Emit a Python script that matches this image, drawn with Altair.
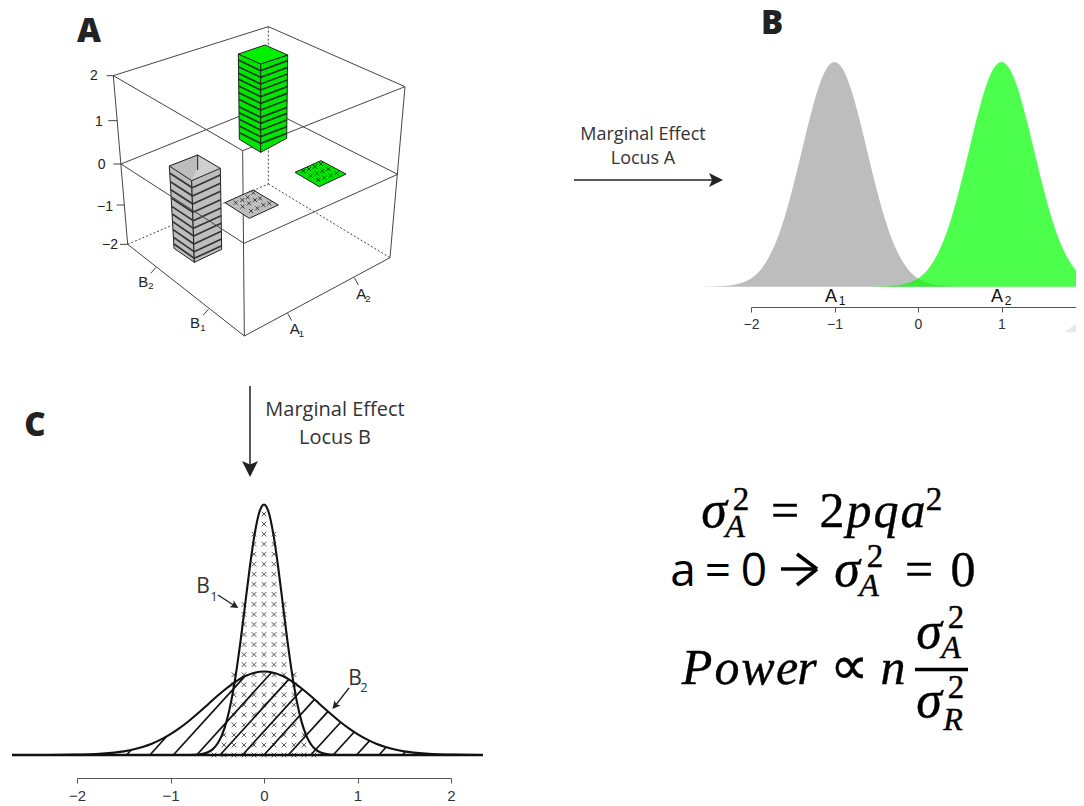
import altair as alt
import pandas as pd

# ---------- panel B: marginal densities of locus A (relative height)
b_x1 = [-2.8,-2.6,-2.4,-2.3,-2.2,-2.1,-2.0,-1.9,-1.8,-1.7,-1.6,-1.5,-1.4,-1.3,-1.2,-1.1,-1.0,-0.9,-0.8,-0.7,-0.6,-0.5,-0.4,-0.3,-0.2,-0.1,0.0,0.1,0.2,0.3,0.4,0.6,0.8]
b_y1 = [0.0,0.0002,0.0016,0.0038,0.0088,0.019,0.037,0.069,0.122,0.2,0.306,0.44,0.591,0.744,0.877,0.968,1.0,0.968,0.877,0.744,0.591,0.44,0.306,0.2,0.122,0.069,0.037,0.019,0.0088,0.0038,0.0016,0.0002,0.0]
b_x2 = [-0.8,-0.6,-0.4,-0.3,-0.2,-0.1,0.0,0.1,0.2,0.3,0.4,0.5,0.6,0.7,0.8,0.9,1.0,1.1,1.2,1.3,1.4,1.5,1.6,1.7,1.8,1.9,2.0,2.1,2.2,2.4]
b_y2 = [0.0,0.0002,0.0016,0.0038,0.0088,0.019,0.037,0.069,0.122,0.2,0.306,0.44,0.591,0.744,0.877,0.968,1.0,0.968,0.877,0.744,0.591,0.44,0.306,0.2,0.122,0.069,0.037,0.019,0.0088,0.0016]

# ---------- panel C: marginal densities of locus B
c_x1 = [-0.8,-0.7,-0.6,-0.55,-0.5,-0.45,-0.4,-0.35,-0.3,-0.25,-0.2,-0.15,-0.1,-0.05,0.0,0.05,0.1,0.15,0.2,0.25,0.3,0.35,0.4,0.45,0.5,0.55,0.6,0.7,0.8]
c_y1 = [0.0,0.004,0.022,0.045,0.088,0.159,0.27,0.431,0.648,0.913,1.21,1.506,1.76,1.934,1.995,1.934,1.76,1.506,1.21,0.913,0.648,0.431,0.27,0.159,0.088,0.045,0.022,0.004,0.0]
c_x2 = [-2.3,-2.0,-1.8,-1.6,-1.5,-1.4,-1.3,-1.2,-1.1,-1.0,-0.9,-0.8,-0.7,-0.6,-0.5,-0.4,-0.3,-0.2,-0.1,0.0,0.1,0.2,0.3,0.4,0.5,0.6,0.7,0.8,0.9,1.0,1.1,1.2,1.3,1.4,1.5,1.6,1.8,2.0,2.3]
c_y2 = [0.0,0.003,0.007,0.019,0.029,0.044,0.064,0.09,0.124,0.166,0.216,0.273,0.336,0.403,0.47,0.532,0.587,0.629,0.656,0.665,0.656,0.629,0.587,0.532,0.47,0.403,0.336,0.273,0.216,0.166,0.124,0.09,0.064,0.044,0.029,0.019,0.007,0.003,0.0]
hatch_x0 = [-1.47,-1.22,-0.97,-0.72,-0.47,-0.23,0.0,0.26,0.5,0.74,0.99,1.23,1.48]
hatch_x1 = [-1.42,-1.04,-0.21,0.08,0.265,0.41,0.54,0.685,0.82,0.965,1.13,1.305,1.515]
hatch_y1 = [0.041,0.149,0.623,0.657,0.603,0.525,0.443,0.348,0.261,0.183,0.114,0.062,0.028]
row_density = [1.92,1.84,1.76,1.68,1.60,1.52,1.44,1.36,1.28,1.20,1.12,1.04,0.96,0.88,0.80,0.72,0.64,0.56,0.48,0.40,0.32,0.24,0.16,0.08,0.0]
row_half = [0,0,1,1,1,1,1,1,1,2,2,2,2,2,2,2,3,3,3,3,3,3,4,4,5]
COL_STEP = 0.107

# ---------- panel A: the 3-D box, in picture units of the panel
box_solid = [
    ((160,197),(625,50)),((625,50),(1035,230)),((1035,230),(548,422)),((548,422),(160,197)),
    ((183,462),(610,290)),((610,290),(1013,493)),((1013,493),(552,700)),((552,700),(183,462)),
    ((203,703),(553,978)),((553,978),(990,743)),
    ((160,197),(203,703)),((548,422),(553,978)),((1035,230),(990,743)),
    ((160,197),(140,197)),((172,332),(145,332)),((183,462),(160,462)),((192,585),(170,585)),((203,703),(180,703)),
    ((288,772),(272,790)),((445,898),(430,915)),((683,910),(695,932)),((883,803),(895,825)),
]
box_dashed = [((625,50),(625,522)),((203,703),(625,522)),((625,522),(990,743))]

green_top = [(535,132),(615,105),(683,135),(602,162),(535,132)]
green_left = [(535,132),(602,162),(602,427),(538,388),(535,132)]
green_right = [(602,162),(683,135),(680,385),(602,427),(602,162)]
green_rows = [182,202,222,240,260,280,300,322,340,360,380,400]
grey_in_l = [(328,468),(413,435),(413,478),(395,512),(328,468)]
grey_in_r = [(413,435),(481,475),(395,512),(413,478),(413,435)]
grey_rim = [((328,468),(413,435)),((413,435),(481,475)),((413,435),(413,480))]
grey_left = [(328,468),(395,512),(403,757),(342,715),(328,468)]
grey_right = [(395,512),(481,475),(485,718),(403,757),(395,512)]
grey_rows = [533,558,582,607,632,655,678,702,725,745]
grey_tile = [(495,578),(580,540),(655,585),(568,625),(495,578)]
green_tile = [(705,487),(783,452),(858,492),(778,530),(705,487)]
grey_x = [(527,578),(547,570),(563,562),(580,548),(548,590),(567,580),(585,570),(600,565),(573,603),(592,595),(610,585),(628,580)]
green_x = [(730,483),(747,477),(765,470),(783,462),(752,497),(770,490),(787,483),(805,477),(775,510),(793,503),(812,497),(830,490)]
corner_wedge = [(1065,332),(1076,324),(1076,332),(1065,332)]

W, H = 1068, 798
page_x = alt.Scale(domain=[8, 1076], range=[0, W])
page_y = alt.Scale(domain=[8, 806], range=[0, H])
a_x = alt.Scale(domain=[0, 1110], range=[52, 422])
a_y = alt.Scale(domain=[0, 1020], range=[2, 342])
b_xs = alt.Scale(domain=[-2, 2], range=[743, 1077])
b_ys = alt.Scale(domain=[0, 1], range=[278.7, 54])
c_xs = alt.Scale(domain=[-2, 2], range=[69, 443])
c_ys = alt.Scale(domain=[0, 2], range=[747, 496])


def X(f, s): return alt.X(f, type="quantitative", scale=s, axis=None)
def Y(f, s): return alt.Y(f, type="quantitative", scale=s, axis=None)


def segs(pairs, sx, sy, **kw):
    df = pd.DataFrame([dict(x=a[0], y=a[1], x2=b[0], y2=b[1]) for a, b in pairs])
    return alt.Chart(df).mark_rule(**kw).encode(x=X("x", sx), y=Y("y", sy), x2="x2:Q", y2="y2:Q")


def poly(pts, fill, stroke="#222222", sw=1.0, sx=a_x, sy=a_y):
    df = pd.DataFrame([dict(x=p[0], y=p[1], i=i) for i, p in enumerate(pts)])
    return alt.Chart(df).mark_line(fill=fill, stroke=stroke, strokeWidth=sw, strokeJoin="round").encode(
        x=alt.X("x:Q", scale=sx, axis=None, sort=None), y=Y("y", sy), order="i:Q")


def texts(rows, font, weight="normal", style="normal", sx=page_x, sy=page_y, baseline="alphabetic", **kw):
    df = pd.DataFrame(rows, columns=["t", "x", "y", "s", "c"])
    return alt.Chart(df).mark_text(font=font, fontWeight=weight, fontStyle=style, baseline=baseline, align="center", **kw).encode(
        x=X("x", sx), y=Y("y", sy), text="t:N",
        size=alt.Size("s:Q", scale=None, legend=None), color=alt.Color("c:N", scale=None, legend=None))


def heads(pts, size, angle, color="#222222"):
    df = pd.DataFrame(pts, columns=["x", "y"])
    return alt.Chart(df).mark_point(shape="M-1,-1L1,0L-1,1L-0.55,0Z", filled=True, color=color, opacity=1,
                                    size=size, angle=angle).encode(x=X("x", page_x), y=Y("y", page_y))


def crosses(pts, sx, sy, size, color, sw):
    df = pd.DataFrame(pts, columns=["x", "y"])
    return alt.Chart(df).mark_point(shape="M-1,-1L1,1M-1,1L1,-1", filled=False, color=color, opacity=1,
                                    size=size, strokeWidth=sw).encode(x=X("x", sx), y=Y("y", sy))


def stripes(rows, xl0, xl1, xf0, xf1, xr0, xr1, dl, dr, color):
    out = []
    n = len(rows) - 1
    for i, yy in enumerate(rows):
        t = i / n
        fx = xf0 + (xf1 - xf0) * t
        out.append(((xl0 + (xl1 - xl0) * t, yy - dl), (fx, yy)))
        out.append(((fx, yy), (xr0 + (xr1 - xr0) * t, yy - dr)))
    return segs(out, a_x, a_y, color=color, strokeWidth=1.7)


layers = []

# panel B
dfb1 = pd.DataFrame({"x": b_x1, "y": b_y1})
dfb2 = pd.DataFrame({"x": b_x2, "y": b_y2})
layers.append(alt.Chart(dfb1).mark_area(color="#bdbdbd", interpolate="monotone").encode(
    x=alt.X("x:Q", scale=b_xs, axis=alt.Axis(orient="bottom", values=[-2, -1, 0, 1, 2], title=None, grid=False, format="d", offset=-499,
                                             tickSize=5, tickColor="#555555", domainColor="#555555", labelColor="#333333",
                                             labelFont="Liberation Sans", labelFontSize=14, labelPadding=5,
                                             labelFlush=False, labelOverlap=False, labelBound=False)),
    y=Y("y", b_ys)))
layers.append(alt.Chart(dfb2).mark_area(color="#00ff00", opacity=0.7, interpolate="monotone").encode(
    x=X("x", b_xs), y=Y("y", b_ys)))
layers.append(poly(corner_wedge, "#e8e8e8", stroke="#e8e8e8", sw=0.5, sx=page_x, sy=page_y))
layers.append(texts([("A", 831, 302, 18, "#111111"), ("1", 842, 305, 12, "#111111"),
                     ("A", 997, 302, 18, "#111111"), ("2", 1008, 305, 12, "#111111")], "Liberation Sans"))
layers.append(texts([("Marginal Effect", 643, 140, 18, "#333333"), ("Locus A", 643, 164, 18, "#333333"),
                     ("Marginal Effect", 335, 416, 20, "#333333"), ("Locus B", 335, 444, 20, "#333333")], "Open Sans"))
layers.append(segs([((574, 180), (715, 180))], page_x, page_y, color="#222222", strokeWidth=1.3))
layers.append(heads([(716, 180)], 196, 0))
layers.append(segs([((250, 386), (250, 468))], page_x, page_y, color="#222222", strokeWidth=1.5))
layers.append(heads([(250, 469)], 256, 90))

# panel C
cross_pts = [(k * COL_STEP, d) for d, h in zip(row_density, row_half) for k in range(-h, h + 1)]
layers.append(crosses(cross_pts, c_xs, c_ys, 22, "#555555", 1.0))
layers.append(segs(list(zip(zip(hatch_x0, [0] * len(hatch_x0)), zip(hatch_x1, hatch_y1))), c_xs, c_ys,
                   color="#111111", strokeWidth=1.7))
dfc1 = pd.DataFrame({"x": c_x1, "y": c_y1})
dfc2 = pd.DataFrame({"x": c_x2, "y": c_y2})
layers.append(alt.Chart(dfc1).mark_line(color="#111111", strokeWidth=2.1, interpolate="monotone").encode(
    x=alt.X("x:Q", scale=c_xs, axis=alt.Axis(orient="bottom", values=[-2, -1, 0, 1, 2], title=None, grid=False, format="d", offset=-28,
                                             tickSize=5, tickColor="#555555", domainColor="#555555", labelColor="#333333",
                                             labelFont="Liberation Sans", labelFontSize=15, labelPadding=5,
                                             labelFlush=False, labelOverlap=False)),
    y=Y("y", c_ys)))
layers.append(alt.Chart(dfc2).mark_line(color="#111111", strokeWidth=2.1, interpolate="monotone").encode(
    x=X("x", c_xs), y=Y("y", c_ys)))
layers.append(segs([((12, 755), (483, 755))], page_x, page_y, color="#111111", strokeWidth=2.6))
layers.append(texts([("B", 203, 593, 21, "#333333"), ("1", 214, 601, 13, "#333333"),
                     ("B", 355, 685, 21, "#333333"), ("2", 364, 692, 13, "#333333")], "Open Sans"))
layers.append(segs([((218, 595), (235, 606)), ((349, 688), (335, 706))], page_x, page_y, color="#222222", strokeWidth=1.3))
layers.append(heads([(235, 606)], 64, 32))
layers.append(heads([(335, 706)], 64, 129))

# panel A: back lines, grey tower, planes, tiles, green tower
layers.append(segs(box_dashed, a_x, a_y, color="#444444", strokeWidth=1, strokeDash=[2, 2]))
layers.append(poly(grey_in_l, "#bdbdbd", stroke="#bdbdbd"))
layers.append(poly(grey_in_r, "#cfcfcf", stroke="#cfcfcf"))
layers.append(segs(grey_rim, a_x, a_y, color="#222222", strokeWidth=1))
layers.append(poly(grey_left, "#bdbdbd"))
layers.append(poly(grey_right, "#bdbdbd"))
layers.append(stripes(grey_rows, 330, 342, 397, 403, 481, 485, 43, 38, "#333333"))
layers.append(segs(box_solid, a_x, a_y, color="#444444", strokeWidth=1))
layers.append(poly(grey_tile, "#bdbdbd"))
layers.append(crosses(grey_x, a_x, a_y, 16, "#222222", 0.8))
layers.append(poly(green_tile, "#00e600"))
layers.append(crosses(green_x, a_x, a_y, 16, "#111111", 0.8))
layers.append(poly(green_left, "#00e600"))
layers.append(poly(green_right, "#00e600"))
layers.append(stripes(green_rows, 535, 538, 602, 602, 683, 680, 32, 30, "#1a3a1a"))
layers.append(poly(green_top, "#00f000"))

a_labels = [("2", 102, 210, 14, "#222222"), ("1", 117, 347, 14, "#222222"), ("0", 125, 477, 14, "#222222"),
            ("−1", 135, 602, 14, "#222222"), ("−2", 150, 718, 14, "#222222"),
            ("B", 250, 830, 15, "#222222"), ("2", 273, 838, 9.5, "#222222"),
            ("B", 405, 955, 15, "#222222"), ("1", 429, 963, 9.5, "#222222"),
            ("A", 704, 973, 15, "#222222"), ("1", 724, 981, 9.5, "#222222"),
            ("A", 904, 867, 15, "#222222"), ("2", 924, 875, 9.5, "#222222")]
layers.append(texts(a_labels, "Liberation Sans", sx=a_x, sy=a_y))

# panel letters
layers.append(texts([("A", 89, 42, 33, "#222222"), ("B", 772, 34, 33, "#222222"), ("C", 35, 436, 33, "#222222")],
                    "Open Sans", weight=800))

# formulae
serif_i = [("σ", 714, 527, 52, "#000000"), ("A", 735, 537, 32, "#000000"),
           ("p", 859, 527, 50, "#000000"), ("q", 886, 527, 50, "#000000"), ("a", 913, 527, 50, "#000000"),
           ("σ", 847, 586, 52, "#000000"), ("A", 869, 596, 32, "#000000"),
           ("P", 697, 684, 50, "#000000"), ("o", 727, 684, 50, "#000000"), ("w", 758, 684, 50, "#000000"),
           ("e", 787, 684, 50, "#000000"), ("r", 807, 684, 50, "#000000"), ("n", 893, 684, 50, "#000000"),
           ("σ", 929, 648, 52, "#000000"), ("A", 951, 658, 32, "#000000"),
           ("σ", 929, 717, 52, "#000000"), ("R", 953, 730, 32, "#000000")]
serif_r = [("2", 741, 510, 33, "#000000"), ("=", 785, 527, 50, "#000000"), ("2", 832, 527, 50, "#000000"),
           ("2", 934, 510, 33, "#000000"), ("2", 875, 567, 33, "#000000"), ("=", 919, 586, 50, "#000000"),
           ("0", 963, 586, 50, "#000000"), ("∝", 849, 684, 54, "#000000"),
           ("2", 956, 628, 33, "#000000"), ("2", 956, 698, 33, "#000000")]
sans_r = [("a", 683, 586, 46, "#000000"), ("=", 718, 586, 46, "#000000"), ("0", 754, 586, 46, "#000000")]
layers.append(texts(serif_i, "Liberation Serif", style="italic", stroke="#000000", strokeWidth=0.4))
layers.append(texts(serif_r, "Liberation Serif", stroke="#000000", strokeWidth=0.4))
layers.append(texts(sans_r, "Open Sans"))
layers.append(segs([((781, 569), (816, 569)), ((797, 554), (817, 569)), ((797, 585), (817, 569)), ((915, 669.5), (968, 669.5))],
                   page_x, page_y, color="#000000", strokeWidth=3.6))

chart = alt.layer(*layers).resolve_scale(x="independent", y="independent").properties(
    width=W, height=H, padding=0, autosize=alt.AutoSizeParams(type="none")
).configure_view(stroke=None)

chart.save("out.html", embed_options={"renderer": "svg", "actions": False})
